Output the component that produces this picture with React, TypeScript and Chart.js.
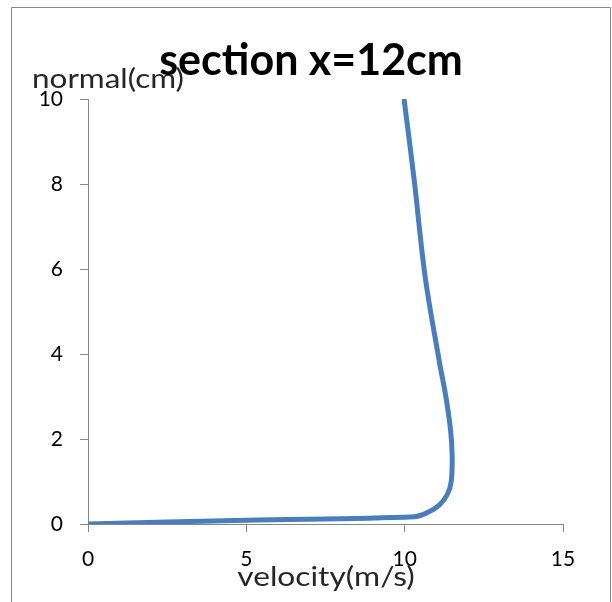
import React, { useEffect, useRef } from "react";
import { Chart, registerables } from "chart.js";

Chart.register(...registerables);

const velocity = [0, 5, 10.3, 10.75, 11.1, 11.35, 11.47, 11.5, 11.45, 11.3, 11.1, 10.65, 10.3, 9.98];
const normal = [0, 0.09, 0.17, 0.28, 0.45, 0.7, 1.0, 1.6, 2.2, 3.0, 3.8, 5.8, 8.1, 10];
const xTicks = [0, 5, 10, 15];
const yTicks = [0, 2, 4, 6, 8, 10];

const TITLE = "section x=12cm";
const X_TITLE = "velocity(m/s)";
const Y_TITLE = "normal(cm)";
const FONT = "Lato, 'Open Sans', sans-serif";
const GRAY = "#868686";

function stretchedText(ctx: any, text: string, x: number, y: number, align: string, sx: number) {
  ctx.save();
  ctx.translate(x, y);
  ctx.scale(sx, 1);
  ctx.textAlign = align;
  ctx.fillText(text, 0, 0);
  ctx.restore();
}

const overlay = {
  id: "overlay",
  beforeDraw(chart: any) {
    const ctx = chart.ctx;
    ctx.save();
    ctx.fillStyle = "#ffffff";
    ctx.fillRect(0, 0, chart.width, chart.height);
    ctx.strokeStyle = GRAY;
    ctx.lineWidth = 1;
    ctx.beginPath();
    ctx.moveTo(11.5, 640);
    ctx.lineTo(11.5, 7.5);
    ctx.lineTo(610.5, 7.5);
    ctx.lineTo(610.5, 640);
    ctx.stroke();
    ctx.restore();
  },
  afterDraw(chart: any) {
    const ctx = chart.ctx;
    ctx.save();
    ctx.textBaseline = "alphabetic";
    ctx.font = `26px ${FONT}`;
    ctx.fillStyle = "#262626";
    stretchedText(ctx, Y_TITLE, 32, 88, "left", 1.21);
    stretchedText(ctx, X_TITLE, 326, 586, "center", 1.22);
    ctx.fillStyle = "#000000";
    ctx.font = `bold 43px ${FONT}`;
    ctx.textAlign = "center";
    ctx.fillText(TITLE, 311, 75);
    ctx.restore();
  },
};

export default function App() {
  const ref = useRef<HTMLCanvasElement>(null);
  useEffect(() => {
    if (!ref.current) return;
    const chart = new Chart(ref.current, {
      type: "scatter",
      data: {
        datasets: [
          {
            data: velocity.map((v, i) => ({ x: v, y: normal[i] })),
            showLine: true,
            borderColor: "#4a7ebb",
            borderWidth: 5,
            pointRadius: 0,
            tension: 0.35,
            fill: false,
          },
        ],
      },
      plugins: [overlay],
      options: {
        responsive: false,
        animation: false,
        devicePixelRatio: 1,
        layout: { padding: { left: 0, top: 99, right: 49, bottom: 0 } },
        plugins: { legend: { display: false }, tooltip: { enabled: false }, title: { display: false } },
        scales: {
          x: {
            type: "linear",
            min: 0,
            max: 15,
            afterFit: (s: any) => {
              s.height = 78;
            },
            afterBuildTicks: (s: any) => {
              s.ticks = xTicks.map((v) => ({ value: v }));
            },
            border: { display: true, color: GRAY, width: 1 },
            grid: { drawOnChartArea: false, drawTicks: true, tickLength: 8, color: GRAY },
            ticks: { color: "#000000", font: { family: FONT, size: 21 }, padding: 15, maxRotation: 0 },
          },
          y: {
            type: "linear",
            min: 0,
            max: 10,
            afterFit: (s: any) => {
              s.width = 88;
            },
            afterBuildTicks: (s: any) => {
              s.ticks = yTicks.map((v) => ({ value: v }));
            },
            border: { display: true, color: GRAY, width: 1 },
            grid: { drawOnChartArea: false, drawTicks: true, tickLength: 8, color: GRAY },
            ticks: { color: "#000000", font: { family: FONT, size: 21 }, padding: 17 },
          },
        },
      },
    });
    return () => chart.destroy();
  }, []);
  return (
    <div style={{ position: "absolute", left: 0, top: 0, width: 612, height: 602 }}>
      <canvas ref={ref} width={612} height={602} />
    </div>
  );
}
